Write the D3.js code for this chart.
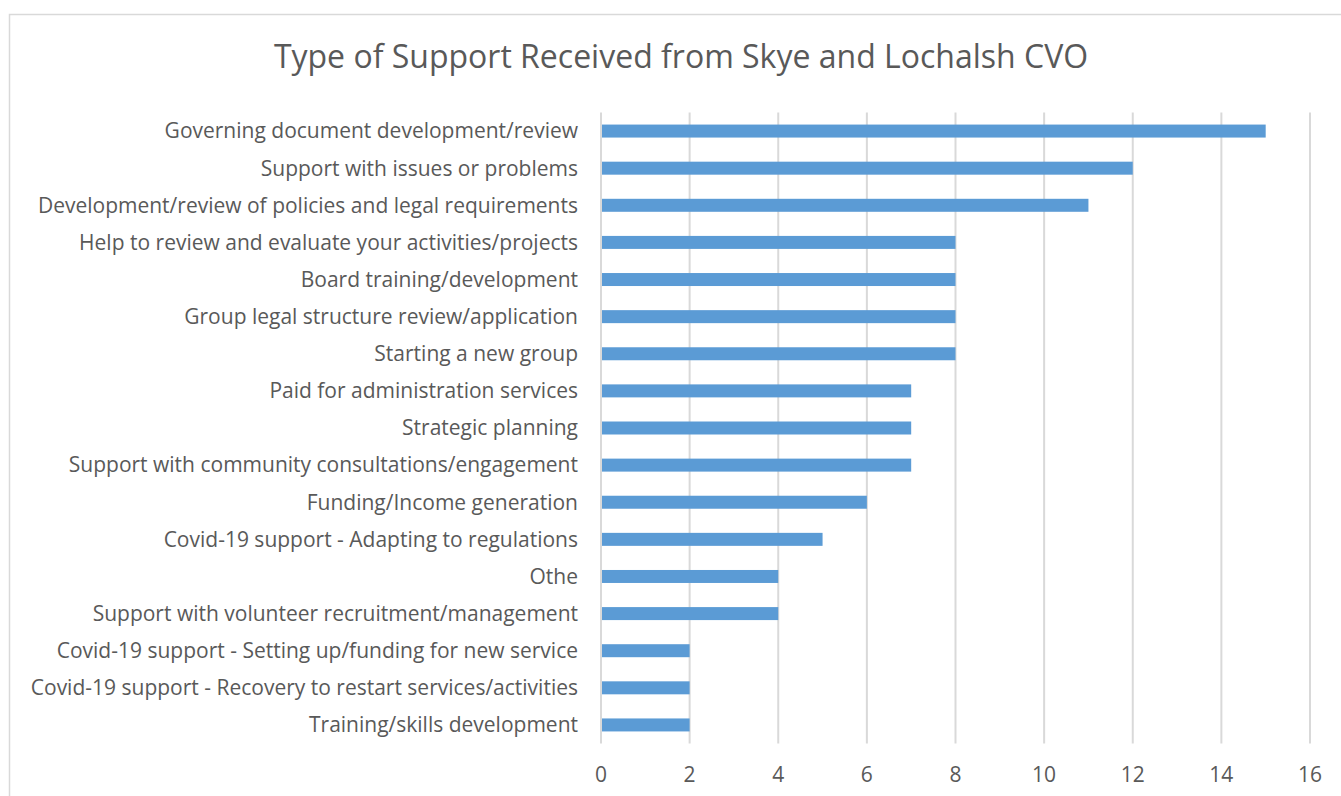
<!DOCTYPE html>
<html><head><meta charset="utf-8">
<script src="https://cdn.jsdelivr.net/npm/d3@7"></script>
<style>body{margin:0;background:#fff}svg{display:block}text{font-family:"Open Sans",sans-serif;fill:#595959}</style>
</head><body><svg id="c" width="1341" height="796"></svg>
<script>
const categories = ["Governing document development/review","Support with issues or problems","Development/review of policies and legal requirements","Help to review and evaluate your activities/projects","Board training/development","Group legal structure review/application","Starting a new group","Paid for administration services","Strategic planning","Support with community consultations/engagement","Funding/Income generation","Covid-19 support - Adapting to regulations","Othe","Support with volunteer recruitment/management","Covid-19 support - Setting up/funding for new service","Covid-19 support - Recovery to restart services/activities","Training/skills development"];
const values = [15,12,11,8,8,8,8,7,7,7,6,5,4,4,2,2,2];
const tickValues = [0,2,4,6,8,10,12,14,16];
const title = "Type of Support Received from Skye and Lochalsh CVO";

const svg = d3.select("#c");
svg.append("rect").attr("x",9.5).attr("y",14.5).attr("width",1340).attr("height",790).attr("fill","#fff").attr("stroke","#d9d9d9").attr("stroke-width",1.5);
svg.append("text").attr("x",681).attr("y",68).attr("text-anchor","middle").style("font-size","32px").text(title);

const x = d3.scaleLinear().domain([0,16]).range([601,1310]);
const y = d3.scaleBand().domain(categories).range([112.5,743.5]).paddingInner(0.65).paddingOuter(0.325);

svg.append("g").selectAll("line").data(tickValues).join("line")
  .attr("x1",d=>x(d)).attr("x2",d=>x(d)).attr("y1",112.5).attr("y2",743.5)
  .attr("stroke","#d9d9d9").attr("stroke-width",2);

svg.append("g").selectAll("rect").data(values).join("rect")
  .attr("x",x(0)+1).attr("y",(d,i)=>y(categories[i]))
  .attr("width",d=>x(d)-x(0)-1).attr("height",y.bandwidth()).attr("fill","#5b9bd5");

svg.append("g").selectAll("text").data(categories).join("text")
  .attr("x",578).attr("y",d=>y(d)+y.bandwidth()/2).attr("dy","0.35em")
  .attr("text-anchor","end").style("font-size","21px").text(d=>d);

svg.append("g").selectAll("text").data(tickValues).join("text")
  .attr("x",d=>x(d)).attr("y",782).attr("text-anchor","middle")
  .style("font-size","21px").text(d=>d);
</script></body></html>
